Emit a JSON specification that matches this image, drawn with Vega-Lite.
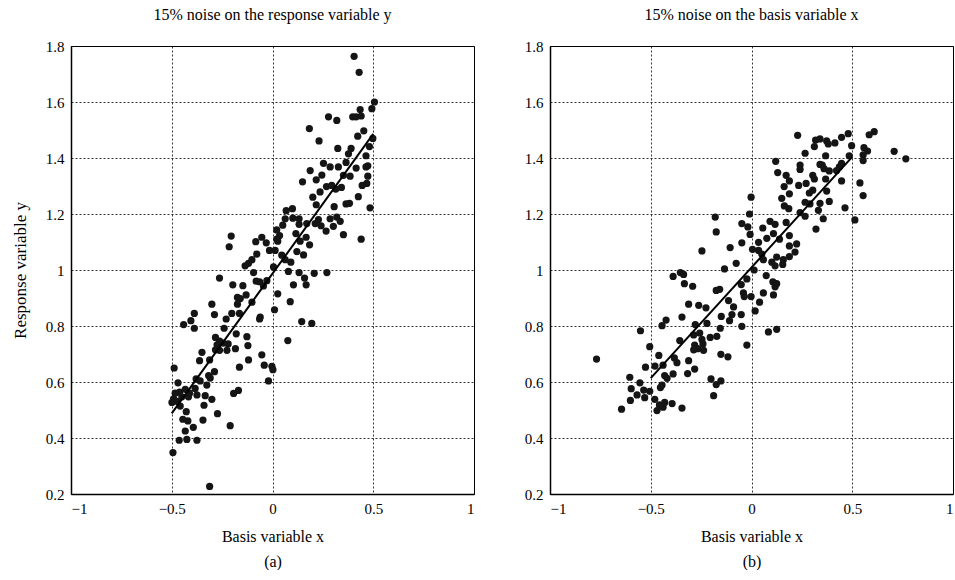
{
  "$schema": "https://vega.github.io/schema/vega-lite/v6.json",
  "background": "white",
  "padding": {"left": 10, "top": 6, "right": 0, "bottom": 0},
  "config": {
    "font": "Liberation Serif",
    "view": {"stroke": "black", "strokeWidth": 1},
    "axis": {
      "labelFont": "Liberation Serif", "labelFontSize": 15, "labelColor": "black",
      "titleFont": "Liberation Serif", "titleFontSize": 16, "titleFontWeight": "normal", "titleColor": "black",
      "grid": true, "gridColor": "black", "gridDash": [2, 2], "gridWidth": 0.8, "gridOpacity": 1,
      "ticks": false, "domainColor": "black", "domainWidth": 1.5, "labelPadding": 7
    },
    "title": {"font": "Liberation Serif", "fontSize": 16, "fontWeight": "normal", "color": "black", "offset": 16}
  },
  "datasets": {
    "a": [
      {"x":0.405,"y":1.763},{"x":0.43,"y":1.706},{"x":0.506,"y":1.6},{"x":0.493,"y":1.576},{"x":0.435,"y":1.573},
      {"x":0.398,"y":1.547},{"x":0.415,"y":1.547},{"x":0.44,"y":1.55},{"x":0.278,"y":1.547},{"x":0.319,"y":1.534},
      {"x":0.183,"y":1.505},{"x":0.453,"y":1.497},{"x":0.498,"y":1.47},{"x":0.231,"y":1.461},{"x":0.423,"y":1.478},
      {"x":0.324,"y":1.434},{"x":0.39,"y":1.434},{"x":0.377,"y":1.415},{"x":0.481,"y":1.441},{"x":0.464,"y":1.408},
      {"x":0.253,"y":1.381},{"x":0.365,"y":1.384},{"x":0.327,"y":1.368},{"x":0.286,"y":1.368},{"x":0.415,"y":1.364},
      {"x":0.464,"y":1.368},{"x":0.473,"y":1.372},{"x":0.187,"y":1.355},{"x":0.217,"y":1.322},{"x":0.245,"y":1.339},
      {"x":0.385,"y":1.335},{"x":0.352,"y":1.338},{"x":0.473,"y":1.335},{"x":0.149,"y":1.315},{"x":0.445,"y":1.302},
      {"x":0.468,"y":1.309},{"x":0.268,"y":1.298},{"x":0.294,"y":1.302},{"x":0.314,"y":1.289},{"x":0.342,"y":1.295},
      {"x":0.236,"y":1.279},{"x":0.2,"y":1.26},{"x":0.426,"y":1.262},{"x":0.217,"y":1.233},{"x":0.306,"y":1.226},
      {"x":0.365,"y":1.236},{"x":0.382,"y":1.238},{"x":0.484,"y":1.222},{"x":0.068,"y":1.212},{"x":0.099,"y":1.219},
      {"x":0.063,"y":1.183},{"x":0.101,"y":1.185},{"x":0.132,"y":1.183},{"x":0.286,"y":1.183},{"x":0.319,"y":1.189},
      {"x":0.228,"y":1.18},{"x":0.212,"y":1.166},{"x":0.241,"y":1.158},{"x":0.17,"y":1.166},{"x":0.132,"y":1.163},
      {"x":0.336,"y":1.174},{"x":0.266,"y":1.139},{"x":0.302,"y":1.156},{"x":0.021,"y":1.143},{"x":0.051,"y":1.16},
      {"x":0.116,"y":1.13},{"x":0.352,"y":1.126},{"x":0.44,"y":1.11},{"x":0.167,"y":1.117},{"x":0.035,"y":1.123},
      {"x":0.021,"y":1.11},{"x":0.026,"y":1.103},{"x":-0.205,"y":1.121},{"x":-0.215,"y":1.083},{"x":-0.053,"y":1.117},
      {"x":-0.031,"y":1.097},{"x":-0.083,"y":1.101},{"x":0.013,"y":1.07},{"x":0.046,"y":1.053},{"x":-0.015,"y":1.07},
      {"x":0.121,"y":1.066},{"x":0.154,"y":1.054},{"x":0.184,"y":1.09},{"x":0.137,"y":1.103},{"x":-0.078,"y":1.057},
      {"x":-0.102,"y":1.037},{"x":-0.119,"y":1.024},{"x":-0.136,"y":1.015},{"x":0.063,"y":1.037},{"x":0.091,"y":1.028},
      {"x":0.005,"y":1.011},{"x":0.079,"y":0.995},{"x":0.132,"y":0.991},{"x":0.207,"y":0.988},{"x":0.27,"y":0.991},
      {"x":0.159,"y":0.971},{"x":0.167,"y":0.947},{"x":0.104,"y":0.947},{"x":-0.094,"y":0.991},{"x":-0.081,"y":0.96},
      {"x":-0.064,"y":0.958},{"x":-0.028,"y":0.962},{"x":-0.045,"y":0.943},{"x":-0.263,"y":0.971},{"x":-0.197,"y":0.947},
      {"x":-0.147,"y":0.944},{"x":-0.131,"y":0.911},{"x":-0.174,"y":0.902},{"x":-0.16,"y":0.898},{"x":-0.102,"y":0.885},
      {"x":-0.174,"y":0.878},{"x":0.026,"y":0.915},{"x":0.088,"y":0.887},{"x":0.01,"y":0.858},{"x":-0.061,"y":0.832},
      {"x":-0.064,"y":0.825},{"x":-0.301,"y":0.878},{"x":-0.288,"y":0.841},{"x":-0.202,"y":0.845},{"x":-0.164,"y":0.845},
      {"x":-0.23,"y":0.825},{"x":-0.388,"y":0.845},{"x":-0.405,"y":0.819},{"x":-0.441,"y":0.805},{"x":-0.388,"y":0.792},
      {"x":0.145,"y":0.816},{"x":0.195,"y":0.809},{"x":0.076,"y":0.748},{"x":-0.24,"y":0.792},{"x":-0.18,"y":0.772},
      {"x":-0.283,"y":0.759},{"x":-0.263,"y":0.746},{"x":-0.275,"y":0.733},{"x":-0.245,"y":0.739},{"x":-0.22,"y":0.736},
      {"x":-0.127,"y":0.762},{"x":-0.122,"y":0.73},{"x":-0.184,"y":0.719},{"x":-0.226,"y":0.713},{"x":-0.283,"y":0.715},
      {"x":-0.263,"y":0.713},{"x":-0.35,"y":0.706},{"x":-0.362,"y":0.676},{"x":-0.312,"y":0.679},{"x":-0.119,"y":0.679},
      {"x":-0.053,"y":0.697},{"x":-0.041,"y":0.66},{"x":-0.003,"y":0.656},{"x":0.002,"y":0.644},{"x":-0.02,"y":0.604},
      {"x":-0.164,"y":0.653},{"x":-0.288,"y":0.637},{"x":-0.488,"y":0.65},{"x":-0.469,"y":0.597},{"x":-0.379,"y":0.611},
      {"x":-0.359,"y":0.604},{"x":-0.317,"y":0.623},{"x":-0.309,"y":0.614},{"x":-0.326,"y":0.589},{"x":-0.169,"y":0.57},
      {"x":-0.193,"y":0.559},{"x":-0.384,"y":0.577},{"x":-0.433,"y":0.574},{"x":-0.461,"y":0.564},{"x":-0.483,"y":0.56},
      {"x":-0.491,"y":0.54},{"x":-0.474,"y":0.531},{"x":-0.499,"y":0.527},{"x":-0.45,"y":0.547},{"x":-0.412,"y":0.56},
      {"x":-0.417,"y":0.547},{"x":-0.375,"y":0.554},{"x":-0.334,"y":0.551},{"x":-0.301,"y":0.538},{"x":-0.458,"y":0.514},
      {"x":-0.34,"y":0.517},{"x":-0.428,"y":0.494},{"x":-0.273,"y":0.487},{"x":-0.445,"y":0.467},{"x":-0.42,"y":0.461},
      {"x":-0.393,"y":0.438},{"x":-0.345,"y":0.464},{"x":-0.433,"y":0.425},{"x":-0.21,"y":0.444},{"x":-0.463,"y":0.392},
      {"x":-0.425,"y":0.395},{"x":-0.375,"y":0.392},{"x":-0.494,"y":0.348},{"x":-0.312,"y":0.227}
    ],
    "b": [
      {"x":0.48,"y":1.487},{"x":0.447,"y":1.474},{"x":0.414,"y":1.454},{"x":0.373,"y":1.461},{"x":0.381,"y":1.45},
      {"x":0.34,"y":1.468},{"x":0.318,"y":1.464},{"x":0.312,"y":1.441},{"x":0.266,"y":1.417},{"x":0.229,"y":1.481},
      {"x":0.497,"y":1.444},{"x":0.485,"y":1.408},{"x":0.609,"y":1.494},{"x":0.584,"y":1.483},{"x":0.558,"y":1.437},
      {"x":0.576,"y":1.425},{"x":0.554,"y":1.411},{"x":0.554,"y":1.391},{"x":0.708,"y":1.424},{"x":0.766,"y":1.397},
      {"x":0.12,"y":1.388},{"x":0.13,"y":1.348},{"x":0.368,"y":1.408},{"x":0.351,"y":1.375},{"x":0.386,"y":1.354},
      {"x":0.34,"y":1.377},{"x":0.36,"y":1.362},{"x":0.447,"y":1.381},{"x":0.436,"y":1.368},{"x":0.422,"y":1.355},
      {"x":0.241,"y":1.375},{"x":0.241,"y":1.359},{"x":0.172,"y":1.338},{"x":0.188,"y":1.318},{"x":0.162,"y":1.298},
      {"x":0.312,"y":1.325},{"x":0.304,"y":1.338},{"x":0.368,"y":1.325},{"x":0.447,"y":1.318},{"x":0.538,"y":1.311},
      {"x":0.234,"y":1.302},{"x":0.271,"y":1.309},{"x":0.304,"y":1.285},{"x":0.287,"y":1.275},{"x":0.373,"y":1.282},
      {"x":0.188,"y":1.272},{"x":0.15,"y":1.256},{"x":0.554,"y":1.266},{"x":0.386,"y":1.245},{"x":0.266,"y":1.242},
      {"x":0.29,"y":1.236},{"x":0.34,"y":1.238},{"x":0.163,"y":1.229},{"x":0.185,"y":1.219},{"x":0.464,"y":1.222},
      {"x":-0.002,"y":1.26},{"x":0.332,"y":1.213},{"x":0.241,"y":1.205},{"x":0.266,"y":1.192},{"x":-0.01,"y":1.2},
      {"x":-0.18,"y":1.189},{"x":0.356,"y":1.183},{"x":0.513,"y":1.179},{"x":0.172,"y":1.17},{"x":0.092,"y":1.174},
      {"x":-0.048,"y":1.166},{"x":-0.018,"y":1.154},{"x":0.117,"y":1.163},{"x":0.056,"y":1.15},{"x":0.32,"y":1.146},
      {"x":-0.175,"y":1.136},{"x":-0.007,"y":1.127},{"x":0.109,"y":1.13},{"x":0.188,"y":1.123},{"x":0.139,"y":1.11},
      {"x":0.076,"y":1.113},{"x":0.035,"y":1.099},{"x":-0.048,"y":1.097},{"x":0.224,"y":1.093},{"x":0.188,"y":1.086},
      {"x":-0.246,"y":1.068},{"x":-0.106,"y":1.08},{"x":0.005,"y":1.074},{"x":0.035,"y":1.07},{"x":0.216,"y":1.064},
      {"x":0.188,"y":1.048},{"x":0.125,"y":1.046},{"x":0.158,"y":1.037},{"x":0.059,"y":1.037},{"x":0.051,"y":1.057},
      {"x":-0.076,"y":1.024},{"x":0.101,"y":1.028},{"x":0.155,"y":1.02},{"x":0.117,"y":1.015},{"x":-0.134,"y":1.004},
      {"x":0.013,"y":1.0},{"x":-0.389,"y":0.977},{"x":-0.353,"y":0.991},{"x":-0.337,"y":0.984},{"x":0.073,"y":0.98},
      {"x":-0.023,"y":0.968},{"x":-0.333,"y":0.951},{"x":-0.292,"y":0.942},{"x":-0.051,"y":0.948},{"x":0.106,"y":0.958},
      {"x":0.125,"y":0.951},{"x":0.117,"y":0.94},{"x":-0.158,"y":0.931},{"x":-0.175,"y":0.927},{"x":-0.04,"y":0.918},
      {"x":0.059,"y":0.918},{"x":0.109,"y":0.911},{"x":-0.114,"y":0.891},{"x":-0.036,"y":0.905},{"x":-0.002,"y":0.905},
      {"x":0.04,"y":0.885},{"x":-0.312,"y":0.878},{"x":-0.262,"y":0.874},{"x":-0.226,"y":0.865},{"x":-0.089,"y":0.868},
      {"x":0.018,"y":0.854},{"x":-0.097,"y":0.841},{"x":-0.051,"y":0.841},{"x":-0.345,"y":0.832},{"x":-0.15,"y":0.834},
      {"x":-0.424,"y":0.821},{"x":-0.444,"y":0.801},{"x":-0.221,"y":0.809},{"x":-0.109,"y":0.819},{"x":-0.279,"y":0.805},
      {"x":-0.048,"y":0.799},{"x":-0.551,"y":0.783},{"x":-0.155,"y":0.792},{"x":0.084,"y":0.779},{"x":0.125,"y":0.788},
      {"x":-0.356,"y":0.748},{"x":-0.287,"y":0.768},{"x":-0.257,"y":0.775},{"x":-0.205,"y":0.759},{"x":-0.172,"y":0.763},
      {"x":-0.246,"y":0.752},{"x":-0.241,"y":0.736},{"x":-0.282,"y":0.732},{"x":-0.023,"y":0.732},{"x":-0.505,"y":0.726},
      {"x":-0.267,"y":0.719},{"x":-0.287,"y":0.715},{"x":-0.238,"y":0.713},{"x":-0.152,"y":0.699},{"x":-0.117,"y":0.69},
      {"x":-0.769,"y":0.682},{"x":-0.46,"y":0.695},{"x":-0.383,"y":0.686},{"x":-0.37,"y":0.669},{"x":-0.312,"y":0.676},
      {"x":-0.526,"y":0.653},{"x":-0.479,"y":0.657},{"x":-0.439,"y":0.66},{"x":-0.389,"y":0.629},{"x":-0.317,"y":0.63},
      {"x":-0.282,"y":0.646},{"x":-0.431,"y":0.623},{"x":-0.419,"y":0.613},{"x":-0.604,"y":0.617},{"x":-0.554,"y":0.597},
      {"x":-0.444,"y":0.589},{"x":-0.452,"y":0.58},{"x":-0.597,"y":0.576},{"x":-0.535,"y":0.571},{"x":-0.505,"y":0.567},
      {"x":-0.53,"y":0.544},{"x":-0.568,"y":0.554},{"x":-0.201,"y":0.611},{"x":-0.175,"y":0.591},{"x":-0.152,"y":0.604},
      {"x":-0.188,"y":0.551},{"x":-0.48,"y":0.538},{"x":-0.601,"y":0.534},{"x":-0.431,"y":0.527},{"x":-0.457,"y":0.518},
      {"x":-0.439,"y":0.51},{"x":-0.394,"y":0.523},{"x":-0.469,"y":0.498},{"x":-0.345,"y":0.507},{"x":-0.645,"y":0.503}
    ],
    "la": [{"x":-0.5,"y":0.488},{"x":0.5,"y":1.486}],
    "lb": [{"x":-0.5,"y":0.614},{"x":0.5,"y":1.404}]
  },
  "spacing": 76,
  "bounds": "flush",
  "hconcat": [
    {
      "width": 403, "height": 448,
      "title": "15% noise on the response variable y",
      "layer": [
        {
          "data": {"name": "a"},
          "mark": {"type": "point", "shape": "circle", "filled": true, "size": 52, "color": "#151515", "opacity": 1},
          "encoding": {
            "x": {"field": "x", "type": "quantitative", "scale": {"domain": [-1, 1], "nice": false},
              "axis": {"values": [-1, -0.5, 0, 0.5, 1], "format": "~g", "title": ["Basis variable x", "(a)"], "titlePadding": 12, "titleLineHeight": 25}},
            "y": {"field": "y", "type": "quantitative", "scale": {"domain": [0.2, 1.8], "nice": false},
              "axis": {"values": [0.2, 0.4, 0.6, 0.8, 1, 1.2, 1.4, 1.6, 1.8], "format": "~g", "title": "Response variable y", "titlePadding": 12, "titleFontSize": 17, "minExtent": 30, "maxExtent": 30}}
          }
        },
        {
          "data": {"name": "la"},
          "mark": {"type": "line", "color": "black", "strokeWidth": 2},
          "encoding": {
            "x": {"field": "x", "type": "quantitative"},
            "y": {"field": "y", "type": "quantitative"}
          }
        }
      ]
    },
    {
      "width": 403, "height": 448,
      "title": "15% noise on the basis variable x",
      "layer": [
        {
          "data": {"name": "b"},
          "mark": {"type": "point", "shape": "circle", "filled": true, "size": 52, "color": "#151515", "opacity": 1},
          "encoding": {
            "x": {"field": "x", "type": "quantitative", "scale": {"domain": [-1, 1], "nice": false},
              "axis": {"values": [-1, -0.5, 0, 0.5, 1], "format": "~g", "title": ["Basis variable x", "(b)"], "titlePadding": 12, "titleLineHeight": 25}},
            "y": {"field": "y", "type": "quantitative", "scale": {"domain": [0.2, 1.8], "nice": false},
              "axis": {"values": [0.2, 0.4, 0.6, 0.8, 1, 1.2, 1.4, 1.6, 1.8], "format": "~g", "title": null}}
          }
        },
        {
          "data": {"name": "lb"},
          "mark": {"type": "line", "color": "black", "strokeWidth": 2},
          "encoding": {
            "x": {"field": "x", "type": "quantitative"},
            "y": {"field": "y", "type": "quantitative"}
          }
        }
      ]
    }
  ]
}
